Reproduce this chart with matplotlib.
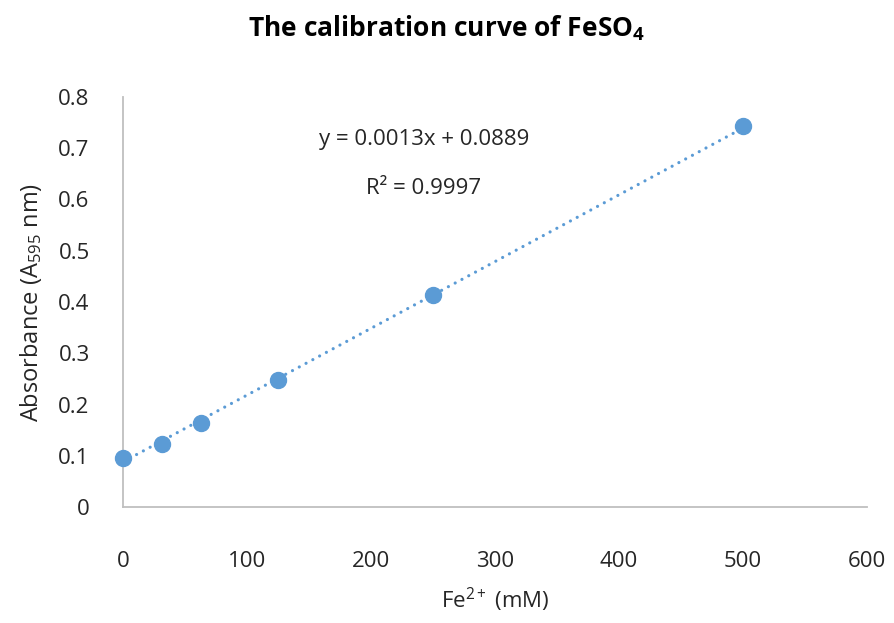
import matplotlib
matplotlib.use("Agg")
import matplotlib.pyplot as plt
import numpy as np

plt.rcParams['font.family'] = ['Open Sans', 'DejaVu Sans']
plt.rcParams['mathtext.fontset'] = 'custom'
plt.rcParams['mathtext.rm'] = 'Open Sans'
plt.rcParams['mathtext.it'] = 'Open Sans:italic'
plt.rcParams['mathtext.bf'] = 'Open Sans:bold'

# Fe2+ standards (mM) and measured absorbance at 595 nm
fe_conc = [0, 31.25, 62.5, 125, 250, 500]
absorbance = [0.096, 0.123, 0.165, 0.248, 0.414, 0.742]

# Linear trendline coefficients as reported
slope = 0.0013
intercept = 0.0889
r_squared = 0.9997

x_ticks = [0, 100, 200, 300, 400, 500, 600]
y_ticks = [0, 0.1, 0.2, 0.3, 0.4, 0.5, 0.6, 0.7, 0.8]
y_tick_labels = ['0', '0.1', '0.2', '0.3', '0.4', '0.5', '0.6', '0.7', '0.8']

blue = '#5B9BD5'
axis_gray = '#BFBFBF'
text_col = '#262626'

fig = plt.figure(figsize=(8.94, 6.23), dpi=100)
ax = fig.add_axes([0.1376, 0.1854, 0.8322, 0.6594])

# trendline across the measured range
xt = np.array([min(fe_conc), max(fe_conc)])
ax.plot(xt, slope * xt + intercept, color=blue, lw=2.3,
        linestyle=(0, (0.01, 2.4)), dash_capstyle='round', zorder=2)

ax.plot(fe_conc, absorbance, linestyle='none', marker='o', ms=11.5,
        color=blue, markeredgecolor=blue, zorder=3, clip_on=False)

ax.set_xlim(0, 600)
ax.set_ylim(0, 0.8)
ax.set_xticks(x_ticks)
ax.set_yticks(y_ticks)
ax.set_yticklabels(y_tick_labels)
ax.tick_params(length=0, labelsize=16, colors=text_col)
ax.tick_params(axis='x', pad=31)
ax.tick_params(axis='y', pad=24)

for side in ('top', 'right'):
    ax.spines[side].set_visible(False)
for side in ('left', 'bottom'):
    ax.spines[side].set_color(axis_gray)
    ax.spines[side].set_linewidth(1.3)

ax.set_xlabel('Fe$^{2+}$ (mM)', fontsize=16, color=text_col, labelpad=10)
ax.set_ylabel('Absorbance (A$_{595}$ nm)', fontsize=17, color=text_col,
              labelpad=10)

ax.text(243, 0.716, f'y = {slope:.4f}x + {intercept:.4f}', fontsize=16,
        color=text_col, ha='center', va='center')
ax.text(242, 0.622, f'R² = {r_squared:.4f}', fontsize=16,
        color=text_col, ha='center', va='center')

fig.text(0.5, 0.955, 'The calibration curve of FeSO$_\\mathbf{4}$', fontsize=19,
         fontweight='bold', color='black', ha='center', va='center')

fig.savefig('out.png', dpi=100, facecolor='white')
